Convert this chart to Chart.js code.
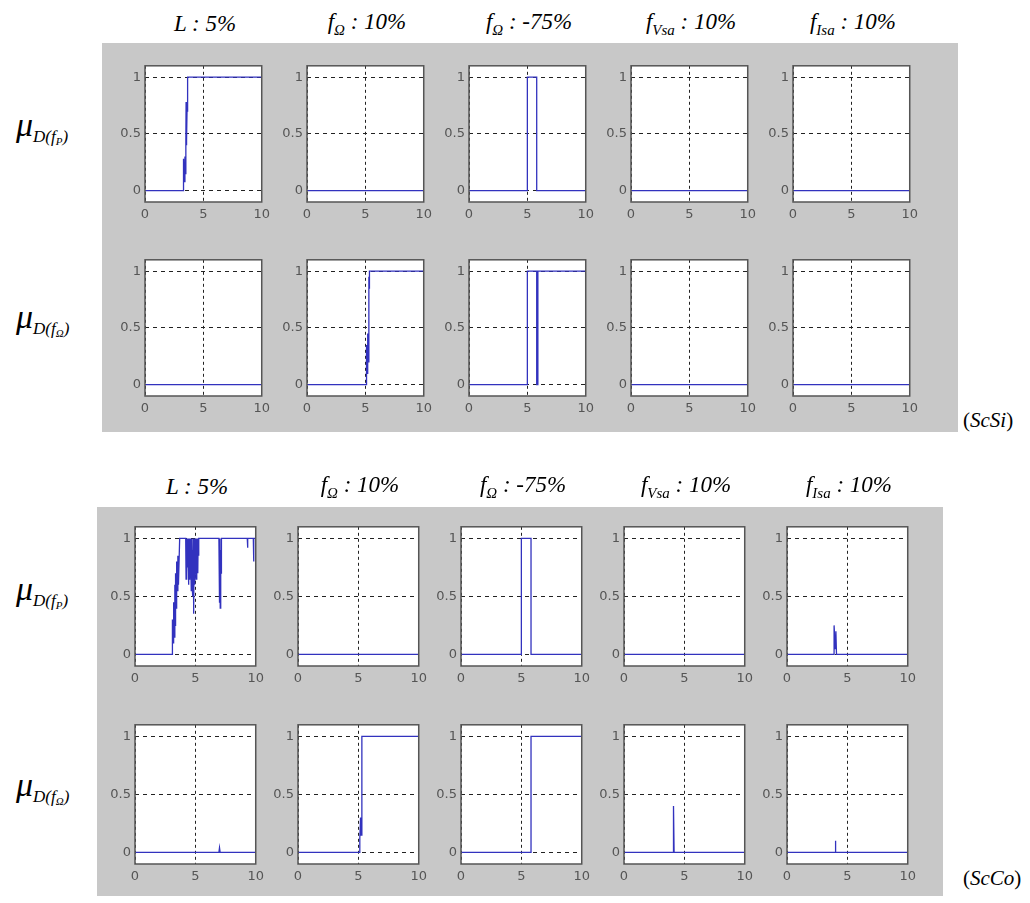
<!DOCTYPE html>
<html>
<head>
<meta charset="utf-8">
<script src="https://cdn.jsdelivr.net/npm/chart.js@4.4.1/dist/chart.umd.min.js"></script>
<style>
body { margin:0; width:1030px; height:903px; position:relative; overflow:hidden; background:#fff; font-family:"Liberation Serif", serif; }
.panel { position:absolute; background:#c8c8c8; }
.cv { position:absolute; }
.ttl { position:absolute; font-style:italic; font-size:23px; transform:translate(-50%,-50%); white-space:nowrap; }
.ttl sub { font-size:15px; }
.mu { position:absolute; font-style:italic; font-size:34px; white-space:nowrap; transform:translateY(-50%); }
.mu sub { font-size:17px; vertical-align:-6px; }
.mu sub sub { font-size:11px; vertical-align:-3px; }
.tag { position:absolute; font-size:21px; white-space:nowrap; transform:translateY(-50%); }
</style>
</head>
<body>
<div class="panel" style="left:102px;top:43px;width:856px;height:389px"></div>
<div class="panel" style="left:97px;top:507px;width:846px;height:389px"></div>
<script>
// tick labels
var xTicks = [0, 5, 10];
var yTicks = [0, 0.5, 1];
var yTickLabels = ['0', '0.5', '1'];

// column headers
var colTitles = [
  ['L', '', ' : 5%'],
  ['f', '\u03A9', ' : 10%'],
  ['f', '\u03A9', ' : -75%'],
  ['f', 'Vsa', ' : 10%'],
  ['f', 'Isa', ' : 10%']
];

// (ScSi) - mu D(fP)
var flat0 = [[0,0],[10,0]];
var scsiP_L = [[0,0],[3.3,0],[3.3,0.28],[3.35,0.08],[3.42,0.3],[3.48,0.15],[3.5,0.45],[3.52,0.78],[3.54,0.4],[3.56,0.75],[3.58,0.45],[3.6,0.7],[3.65,1],[10,1]];
var scsiP_fO10 = flat0;
var scsiP_fOm75 = [[0,0],[5,0],[5,1],[5.8,1],[5.8,0],[10,0]];
var scsiP_fVsa = flat0;
var scsiP_fIsa = flat0;
// (ScSi) - mu D(fOmega)
var scsiO_L = flat0;
var scsiO_fO10 = [[0,0],[5.1,0],[5.1,0.35],[5.15,0.1],[5.2,0.45],[5.25,0.2],[5.3,0.95],[5.32,0.85],[5.35,1],[10,1]];
var scsiO_fOm75 = [[0,0],[5,0],[5,1],[5.8,1],[5.8,0],[5.9,0],[5.9,1],[10,1]];
var scsiO_fVsa = flat0;
var scsiO_fIsa = flat0;

// (ScCo) - mu D(fP)
var sccoP_L = [[0,0],[3.1,0],[3.1,0.3],[3.15,0.1],[3.2,0.45],[3.25,0.15],[3.3,0.6],[3.33,0.25],[3.36,0.7],[3.4,0.4],[3.45,0.8],[3.5,0.55],[3.55,0.85],[3.6,0.6],[3.7,1],
  [4.2,1],[4.23,0.65],[4.26,1],[4.3,0.7],[4.33,1],[4.36,0.75],[4.4,1],[4.43,0.6],[4.46,0.95],[4.5,0.65],[4.53,1],[4.56,0.7],
  [4.6,1],[4.63,0.8],[4.66,0.55],[4.7,1],[4.73,0.6],[4.76,0.9],[4.8,0.5],[4.83,1],[4.86,0.35],[4.9,1],[4.93,0.6],[4.96,0.9],
  [5.0,0.7],[5.03,1],[5.06,0.65],[5.1,1],[5.13,0.75],[5.16,1],[5.2,0.7],[5.23,1],[5.26,0.85],[5.3,1],
  [6.95,1],[7.0,0.45],[7.03,1],[7.06,0.4],[7.1,0.9],[7.13,0.7],[7.16,1],[9.3,1],[9.32,0.92],[9.35,1],[9.8,1],[9.82,0.8],[9.85,1],[10,1]];
var sccoP_fO10 = flat0;
var sccoP_fOm75 = [[0,0],[5,0],[5,1],[5.8,1],[5.8,0],[10,0]];
var sccoP_fVsa = flat0;
var sccoP_fIsa = [[0,0],[3.9,0],[3.9,0.25],[4.0,0.05],[4.05,0.2],[4.1,0],[10,0]];
// (ScCo) - mu D(fOmega)
var sccoO_L = [[0,0],[6.95,0],[7,0.04],[7.05,0],[10,0]];
var sccoO_fO10 = [[0,0],[5.1,0],[5.12,0.12],[5.18,0.3],[5.22,0.15],[5.28,0.35],[5.3,1],[10,1]];
var sccoO_fOm75 = [[0,0],[5.8,0],[5.8,1],[10,1]];
var sccoO_fVsa = [[0,0],[4.1,0],[4.1,0.4],[4.15,0],[10,0]];
var sccoO_fIsa = [[0,0],[4.0,0],[4.0,0.1],[4.05,0],[10,0]];

var panels = [
  { lefts:[145,307,469,631,793], tops:[62,256], w:120, h:140, titleY:24,
    rows:[[scsiP_L,scsiP_fO10,scsiP_fOm75,scsiP_fVsa,scsiP_fIsa],
          [scsiO_L,scsiO_fO10,scsiO_fOm75,scsiO_fVsa,scsiO_fIsa]],
    muY:[126,318], tag:'ScSi', tagY:420 },
  { lefts:[135,298,461,624,787], tops:[523,721], w:124, h:143, titleY:487,
    rows:[[sccoP_L,sccoP_fO10,sccoP_fOm75,sccoP_fVsa,sccoP_fIsa],
          [sccoO_L,sccoO_fO10,sccoO_fOm75,sccoO_fVsa,sccoO_fIsa]],
    muY:[590,786], tag:'ScCo', tagY:878 }
];

var boxPlugin = {
  id: 'box',
  beforeDraw: function(chart) {
    var a = chart.chartArea, ctx = chart.ctx;
    ctx.save(); ctx.fillStyle = '#fff';
    ctx.fillRect(a.left, a.top, a.right - a.left, a.bottom - a.top);
    ctx.restore();
  },
  afterDraw: function(chart) {
    var a = chart.chartArea, ctx = chart.ctx;
    ctx.save(); ctx.strokeStyle = '#555'; ctx.lineWidth = 1.5;
    ctx.strokeRect(a.left, a.top, a.right - a.left, a.bottom - a.top);
    ctx.restore();
  }
};

var Y_W = 30, PAD_T = 8, PAD_R = 10, X_H = 24;
var tickFont = { family: 'DejaVu Sans', size: 13 };

function makePlot(left, top, w, h, pts) {
  var c = document.createElement('canvas');
  c.width = w + Y_W + PAD_R;
  c.height = h + PAD_T + X_H;
  c.className = 'cv';
  c.style.left = (left - Y_W) + 'px';
  c.style.top = (top - PAD_T) + 'px';
  document.body.appendChild(c);
  new Chart(c, {
    type: 'line',
    data: {
      datasets: [{
        data: pts.map(function(p){ return {x:p[0], y:p[1]}; }),
        borderColor: 'rgb(50,50,190)',
        borderWidth: 1.3,
        pointRadius: 0,
        tension: 0,
        fill: false
      }]
    },
    options: {
      responsive: false,
      animation: false,
      events: [],
      layout: { padding: { top: PAD_T, right: PAD_R, left: 0, bottom: 0 } },
      plugins: { legend: { display: false }, tooltip: { enabled: false } },
      scales: {
        x: {
          type: 'linear', min: 0, max: 10,
          afterBuildTicks: function(s){ s.ticks = xTicks.map(function(v){ return {value:v}; }); },
          afterFit: function(s){ s.height = X_H; },
          grid: { color: '#222', lineWidth: 1, drawTicks: false },
          border: { display: false, dash: [3,3] },
          ticks: { font: tickFont, color: '#555', padding: 5, maxRotation: 0,
                   callback: function(v){ return String(v); } }
        },
        y: {
          type: 'linear', min: -0.1, max: 1.1,
          afterBuildTicks: function(s){ s.ticks = yTicks.map(function(v){ return {value:v}; }); },
          afterFit: function(s){ s.width = Y_W; },
          grid: { color: '#222', lineWidth: 1, drawTicks: false },
          border: { display: false, dash: [4,4] },
          ticks: { font: tickFont, color: '#555', padding: 4,
                   callback: function(v, i){ return yTickLabels[i]; } }
        }
      }
    },
    plugins: [boxPlugin]
  });
}

function addText(cls, html, x, y) {
  var d = document.createElement('div');
  d.className = cls;
  d.innerHTML = html;
  d.style.left = x + 'px';
  d.style.top = y + 'px';
  document.body.appendChild(d);
}

panels.forEach(function(p) {
  p.rows.forEach(function(row, r) {
    row.forEach(function(pts, col) {
      makePlot(p.lefts[col], p.tops[r], p.w, p.h, pts);
    });
  });
  colTitles.forEach(function(t, col) {
    var html = t[0] + (t[1] ? '<sub>' + t[1] + '</sub>' : '') + t[2];
    addText('ttl', html, p.lefts[col] + p.w / 2, p.titleY);
  });
  addText('mu', '\u03BC<sub>D(<i>f</i><sub>P</sub>)</sub>', 16, p.muY[0]);
  addText('mu', '\u03BC<sub>D(<i>f</i><sub>\u03A9</sub>)</sub>', 16, p.muY[1]);
  addText('tag', '(<i>' + p.tag + '</i>)', 963, p.tagY);
});
</script>
</body>
</html>
